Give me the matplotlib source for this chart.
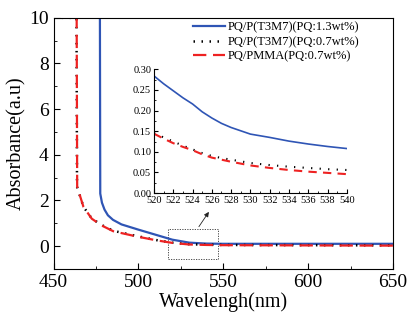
import numpy as np
import matplotlib
matplotlib.use("Agg")
import matplotlib.pyplot as plt
from matplotlib.ticker import MultipleLocator

plt.rcParams['font.family'] = ['Liberation Serif', 'DejaVu Serif']

# main curves (values above 10 are saturated, shown at the top of the frame)
wl_blue = [450, 477.3, 477.5, 478.5, 480, 482, 485, 490, 500, 510, 520, 530, 540, 550, 600, 650]
ab_blue = [10, 10, 2.3, 1.9, 1.6, 1.35, 1.15, 0.95, 0.72, 0.5, 0.28, 0.15, 0.11, 0.1, 0.1, 0.1]

wl_black = [450, 463.5, 463.8, 467.6, 472.5, 478.4, 485.2, 499, 510.8, 520, 530, 540, 550, 600, 650]
ab_black = [10, 10, 2.6, 1.72, 1.21, 0.92, 0.67, 0.44, 0.26, 0.15, 0.08, 0.06, 0.05, 0.04, 0.03]

wl_red = [450, 463.6, 463.9, 467.6, 472.5, 478.4, 485.2, 499, 510.8, 520, 530, 540, 550, 600, 650]
ab_red = [10, 10, 2.6, 1.72, 1.2, 0.9, 0.65, 0.42, 0.25, 0.14, 0.07, 0.05, 0.04, 0.03, 0.02]

# inset (zoomed 520-540 nm)
wl_in = [520, 521, 522, 523, 524, 525, 526, 527, 528, 530, 532, 534, 536, 538, 540]
in_blue = [0.284, 0.265, 0.248, 0.231, 0.216, 0.197, 0.182, 0.169, 0.159, 0.143, 0.135,
           0.126, 0.119, 0.113, 0.108]
in_black = [0.145, 0.135, 0.125, 0.115, 0.106, 0.097, 0.090, 0.085, 0.081, 0.073, 0.068,
            0.064, 0.061, 0.058, 0.056]
in_red = [0.144, 0.132, 0.121, 0.112, 0.104, 0.094, 0.086, 0.081, 0.076, 0.067, 0.061,
          0.056, 0.052, 0.049, 0.046]

labels = ["PQ/P(T3M7)(PQ:1.3wt%)", "PQ/P(T3M7)(PQ:0.7wt%)", "PQ/PMMA(PQ:0.7wt%)"]

fig = plt.figure(figsize=(4.09, 3.24), dpi=100)
ax = fig.add_axes([0.131, 0.170, 0.830, 0.775])

ax.plot(wl_blue, ab_blue, color='#2f55b5', lw=1.6, label=labels[0])
ax.plot(wl_black, ab_black, color='black', lw=1.8, ls=(0, (0.6, 2.6)), label=labels[1])
ax.plot(wl_red, ab_red, color='#ee2222', lw=1.6, ls=(0, (6, 3)), label=labels[2])

ax.set_xlim(450, 650)
ax.set_ylim(-1, 10)
ax.xaxis.set_major_locator(MultipleLocator(50))
ax.xaxis.set_minor_locator(MultipleLocator(25))
ax.yaxis.set_major_locator(MultipleLocator(2))
ax.yaxis.set_minor_locator(MultipleLocator(1))
ax.tick_params(which='both', direction='in', labelsize=14)
ax.tick_params(which='major', length=4)
ax.tick_params(which='minor', length=2.5)
ax.set_xlabel("Wavelengh(nm)", fontsize=14.5, labelpad=1)
ax.set_ylabel("Absorbance(a.u)", fontsize=14.5, labelpad=2)

leg = ax.legend(loc='upper left', bbox_to_anchor=(0.395, 1.005), frameon=False, fontsize=9,
                handlelength=2.6, handletextpad=0.2, labelspacing=0.2, borderaxespad=0)

# dotted zoom box and arrow
ax.add_patch(plt.Rectangle((517.6, -0.58), 29.4, 1.31, fill=False, ls=(0, (1.5, 1.5)),
                           lw=0.6, ec='#333333'))
ax.annotate("", xy=(542.4, 1.6), xytext=(534.7, 0.75),
            arrowprops=dict(arrowstyle='-|>', lw=0.6, color='#222222', mutation_scale=7))

# inset
ins = fig.add_axes([0.3765, 0.404, 0.4715, 0.382])
ins.plot(wl_in, in_blue, color='#2f55b5', lw=1.2)
ins.plot(wl_in, in_black, color='black', lw=1.5, ls=(0, (0.6, 3.5)))
ins.plot(wl_in, in_red, color='#ee2222', lw=1.5, ls=(0, (4, 3)))
ins.set_xlim(520, 540)
ins.set_ylim(0, 0.30)
ins.xaxis.set_major_locator(MultipleLocator(2))
ins.xaxis.set_minor_locator(MultipleLocator(1))
ins.yaxis.set_major_locator(MultipleLocator(0.05))
ins.yaxis.set_minor_locator(MultipleLocator(0.025))
ins.yaxis.set_major_formatter(matplotlib.ticker.FormatStrFormatter('%.2f'))
ins.spines['top'].set_visible(False)
ins.spines['right'].set_visible(False)
ins.patch.set_alpha(0)
ins.tick_params(which='both', direction='in', labelsize=7.5, pad=2)
ins.tick_params(which='major', length=3)
ins.tick_params(which='minor', length=1.5)

fig.savefig("out.png", dpi=100)
